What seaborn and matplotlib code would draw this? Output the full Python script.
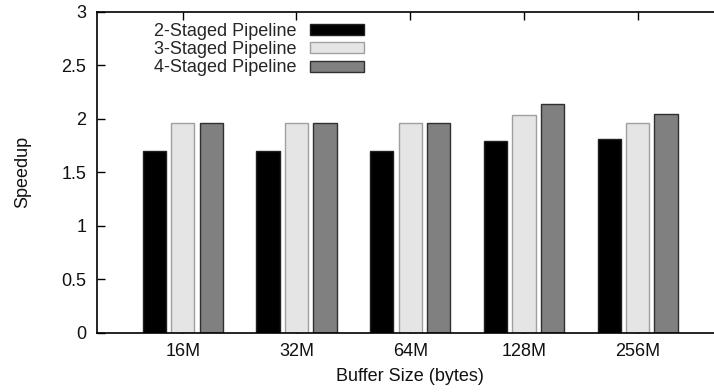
import matplotlib
matplotlib.use("Agg")
import matplotlib.pyplot as plt
import seaborn as sns
import pandas as pd

buffer_sizes = ["16M", "32M", "64M", "128M", "256M"]
series_names = ["2-Staged Pipeline", "3-Staged Pipeline", "4-Staged Pipeline"]
speedup_2 = [1.70, 1.70, 1.70, 1.79, 1.81]
speedup_3 = [1.965, 1.96, 1.965, 2.04, 1.96]
speedup_4 = [1.965, 1.96, 1.965, 2.14, 2.05]
y_ticks = [0, 0.5, 1, 1.5, 2, 2.5, 3]
y_tick_labels = ["0", "0.5", "1", "1.5", "2", "2.5", "3"]

fills = ["#000000", "#e5e5e5", "#808080"]
edges = ["#202020", "#a0a0a0", "#303030"]

rows = []
for name, vals in zip(series_names, [speedup_2, speedup_3, speedup_4]):
    for b, v in zip(buffer_sizes, vals):
        rows.append({"Buffer": b, "Series": name, "Speedup": v})
df = pd.DataFrame(rows)

sns.set_theme(style="white")
plt.rcParams["font.family"] = ["Liberation Sans", "DejaVu Sans"]

FS = 13
fig = plt.figure(figsize=(7.14, 3.92), dpi=100)
ax = fig.add_axes([97.5 / 714, 1 - 332.7 / 392, 625.4 / 714, (332.7 - 12) / 392])

sns.barplot(data=df, x="Buffer", y="Speedup", hue="Series", order=buffer_sizes,
            hue_order=series_names, palette=fills, width=0.75, gap=0.18,
            saturation=1, ax=ax, legend=True)

for cont, ec in zip(ax.containers, edges):
    for p in cont.patches:
        p.set_edgecolor(ec)
        p.set_linewidth(1.0)

ax.set_xlim(-0.75, 4.75)
ax.set_ylim(0, 3)
ax.set_yticks(y_ticks)
ax.set_yticklabels(y_tick_labels)
ax.set_axisbelow(True)

for s in ["left", "bottom", "top", "right"]:
    ax.spines[s].set_color("black")
    ax.spines[s].set_linewidth(1.2)

ax.tick_params(axis="both", direction="in", length=5.8, width=1, colors="black",
               labelsize=FS, labelcolor="#111111")
ax.tick_params(axis="x", top=True, bottom=True, pad=7.5)
ax.tick_params(axis="y", left=True, right=True, pad=8)

ax.set_xlabel("Buffer Size (bytes)", fontsize=FS, color="#111111", labelpad=6)
ax.set_ylabel("Speedup", fontsize=FS, color="#111111", labelpad=22)

handles, labels = ax.get_legend_handles_labels()
for h, ec in zip(handles, edges):
    h.set_edgecolor(ec)
    h.set_linewidth(1.0)
ax.legend(handles, labels, loc="upper right", bbox_to_anchor=(364 / 714, 1 - 22.5 / 392),
          bbox_transform=fig.transFigure, frameon=False, markerfirst=False,
          fontsize=FS, handlelength=3.0, handleheight=0.56, handletextpad=0.72,
          labelspacing=0.08, borderpad=0, borderaxespad=0)

fig.savefig("out.png", dpi=100)
